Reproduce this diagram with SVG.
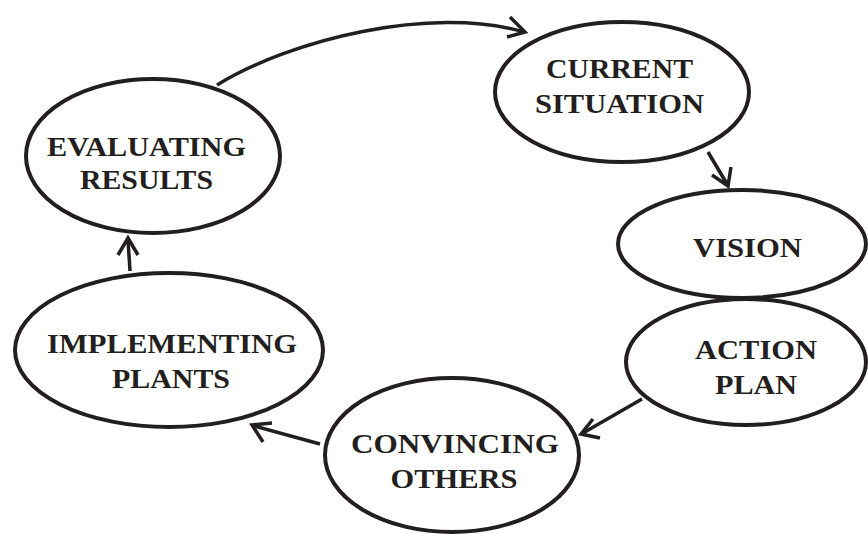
<svg xmlns="http://www.w3.org/2000/svg" width="868" height="534" viewBox="0 0 868 534">
<style>
.node{fill:#fff;stroke:#231f20;stroke-width:4}
.lbl{font-family:"Liberation Serif","Times New Roman",serif;font-weight:bold;font-size:28px;fill:#231f20;text-anchor:middle}
.edge{fill:none;stroke:#231f20;stroke-width:3.5;stroke-linecap:butt;stroke-linejoin:miter}
</style>
<rect width="868" height="534" fill="#fff"/>
<g id="connectors">
<path class="edge" d="M217,85 C290,40 430,5 524,32"/>
<polyline class="edge" points="510,17 525,32 507,37"/>
<line class="edge" x1="708" y1="152" x2="727" y2="184"/>
<polyline class="edge" points="712,175 728,186 731,167"/>
<line class="edge" x1="642" y1="399" x2="583" y2="433"/>
<polyline class="edge" points="593,419 581,434 600,438"/>
<line class="edge" x1="320" y1="444" x2="254" y2="426"/>
<polyline class="edge" points="272,423 252,425 263,442"/>
<line class="edge" x1="130" y1="271" x2="128" y2="240"/>
<polyline class="edge" points="118,255 128,238 138,255"/>
</g>
<g id="current-situation">
<ellipse class="node" cx="622" cy="92" rx="127" ry="70"/>
<text class="lbl" x="619.5" y="78" textLength="147" lengthAdjust="spacingAndGlyphs">CURRENT</text>
<text class="lbl" x="619.5" y="113" textLength="169" lengthAdjust="spacingAndGlyphs">SITUATION</text>
</g>
<g id="vision">
<ellipse class="node" cx="742" cy="244" rx="124" ry="54"/>
<text class="lbl" x="747.5" y="257" textLength="109" lengthAdjust="spacingAndGlyphs">VISION</text>
</g>
<g id="action-plan">
<ellipse class="node" cx="746" cy="362" rx="120" ry="63"/>
<text class="lbl" x="756" y="359" textLength="122" lengthAdjust="spacingAndGlyphs">ACTION</text>
<text class="lbl" x="756" y="394" textLength="82" lengthAdjust="spacingAndGlyphs">PLAN</text>
</g>
<g id="evaluating-results">
<ellipse class="node" cx="153" cy="156" rx="127" ry="77"/>
<text class="lbl" x="146.5" y="156" textLength="199" lengthAdjust="spacingAndGlyphs">EVALUATING</text>
<text class="lbl" x="146.5" y="189" textLength="133" lengthAdjust="spacingAndGlyphs">RESULTS</text>
</g>
<g id="implementing-plants">
<ellipse class="node" cx="169" cy="350" rx="154" ry="77"/>
<text class="lbl" x="172" y="353" textLength="250" lengthAdjust="spacingAndGlyphs">IMPLEMENTING</text>
<text class="lbl" x="171" y="388" textLength="118" lengthAdjust="spacingAndGlyphs">PLANTS</text>
</g>
<g id="convincing-others">
<ellipse class="node" cx="452" cy="455" rx="127" ry="77"/>
<text class="lbl" x="455" y="453" textLength="208" lengthAdjust="spacingAndGlyphs">CONVINCING</text>
<text class="lbl" x="454" y="488" textLength="127" lengthAdjust="spacingAndGlyphs">OTHERS</text>
</g>
</svg>
